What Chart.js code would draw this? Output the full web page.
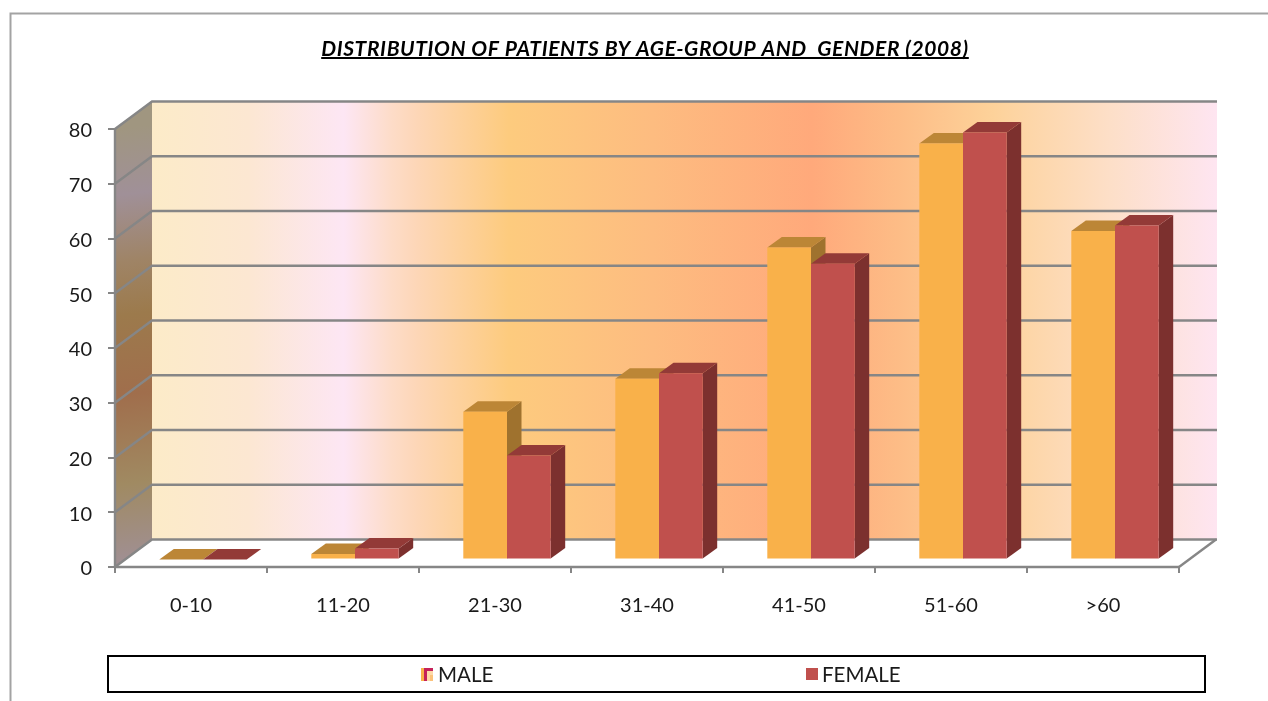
<!DOCTYPE html>
<html>
<head>
<meta charset="utf-8">
<style>html,body{margin:0;padding:0;background:#fff}canvas{display:block}</style>
<script src="https://cdn.jsdelivr.net/npm/chart.js@4"></script>
</head>
<body>
<canvas id="c" width="1268" height="701"></canvas>
<script>
const categories = ['0-10','11-20','21-30','31-40','41-50','51-60','>60'];
const male = [0,1,27,33,57,76,60];
const female = [0,2,19,34,54,78,61];
const seriesNames = ['MALE','FEMALE'];
const titleText = 'DISTRIBUTION OF PATIENTS BY AGE-GROUP AND  GENDER (2008)';
const BODY_FONT = 'Lato';
const TITLE_SPACING = '0.6px';

const WALL = {dx:37, dy:-27.5};
const BAR_SHIFT = {dx:12, dy:-7.5};
const BAR_DEPTH = {dx:14.5, dy:-10.5};
const GRID = '#868686';
const faces = [
  {front:'#F9B14A', top:'#BC8636', side:'#9F722E'},
  {front:'#C0504D', top:'#933A37', side:'#7C302E'}
];

function poly(ctx, pts, fill, stroke, lw){
  ctx.beginPath();
  pts.forEach((p,i)=> i?ctx.lineTo(p[0],p[1]):ctx.moveTo(p[0],p[1]));
  ctx.closePath();
  if(fill){ctx.fillStyle=fill;ctx.fill();}
  if(stroke){ctx.strokeStyle=stroke;ctx.lineWidth=lw||1;ctx.stroke();}
}
function drawDepth(ctx, meta, f){
  const d=BAR_DEPTH;
  meta.data.forEach(bar=>{
    const p=bar.getProps(['x','y','base','width'],true);
    const l=p.x-p.width/2, r=p.x+p.width/2, t=p.y, b=p.base;
    if(b-t>0) poly(ctx,[[r,t],[r+d.dx,t+d.dy],[r+d.dx,b+d.dy],[r,b]],f.side);
    poly(ctx,[[l,t],[l+d.dx,t+d.dy],[r+d.dx,t+d.dy],[r,t]],f.top);
  });
}

const scene = {
  id:'scene',
  afterLayout(chart){
    const tb=chart.titleBlock, ctx=chart.ctx;
    tb.left = 111;
    if(!tb._spaced){
      const draw=tb.draw;
      tb.draw=function(){ctx.save();ctx.letterSpacing=TITLE_SPACING;draw.call(this);ctx.restore();};
      tb._spaced=true;
    }
  },
  beforeDraw(chart){
    const {ctx, chartArea:a, scales:{y}} = chart;
    ctx.save();
    ctx.fillStyle='#fff';ctx.fillRect(0,0,chart.width,chart.height);
    // outer frame
    ctx.strokeStyle='#A3A3A3';ctx.lineWidth=2;
    ctx.beginPath();ctx.moveTo(10.5,chart.height);ctx.lineTo(10.5,13.5);ctx.lineTo(chart.width,13.5);ctx.stroke();
    const L=a.left,B=y.getPixelForValue(0),T=y.getPixelForValue(80),R=a.right;
    const bl=L+WALL.dx, br=R+WALL.dx+1, bt=T+WALL.dy, bb=B+WALL.dy;
    // back wall
    const g=ctx.createLinearGradient(bl,0,br,0);
    [[0,'#FCEBC8'],[0.09,'#FCE7D2'],[0.18,'#FDE6F4'],[0.225,'#FDDCC8'],[0.25,'#FDD6B6'],[0.335,'#FDCB7E'],
     [0.47,'#FDBC80'],[0.62,'#FFA97B'],[0.70,'#FDBC86'],[0.79,'#FDD29A'],[0.90,'#FDDFC8'],[1,'#FEE5F1']]
      .forEach(s=>g.addColorStop(s[0],s[1]));
    ctx.fillStyle=g;ctx.fillRect(bl,bt,br-bl,bb-bt);
    // side wall
    const sg=ctx.createLinearGradient(L,T,bl+20,B);
    [[0,'#A09680'],[0.15,'#A09098'],[0.3,'#9F8466'],[0.42,'#9C7A4C'],[0.6,'#A06E4C'],[0.8,'#A08A62'],[1,'#A0909A']]
      .forEach(s=>sg.addColorStop(s[0],s[1]));
    poly(ctx,[[L,T],[bl,bt],[bl,bb],[L,B]],sg);
    // grid lines on both walls
    ctx.strokeStyle=GRID;ctx.lineWidth=2.4;
    y.ticks.forEach(t=>{
      const py=y.getPixelForValue(t.value);
      ctx.beginPath();ctx.moveTo(L,py);ctx.lineTo(bl,py+WALL.dy);ctx.lineTo(br,py+WALL.dy);ctx.stroke();
    });
    // floor edges and wall corner
    ctx.beginPath();ctx.moveTo(R,B);ctx.lineTo(R+WALL.dx,B+WALL.dy);ctx.stroke();
    ctx.beginPath();ctx.moveTo(L,B);ctx.lineTo(R,B);ctx.stroke();
    ctx.beginPath();ctx.moveTo(L,T);ctx.lineTo(L,B);ctx.stroke();
    ctx.restore();
  },
  beforeDatasetsDraw(chart){
    const ctx=chart.ctx;
    ctx.save();
    ctx.translate(BAR_SHIFT.dx,BAR_SHIFT.dy);
    // the left series' depth faces sit behind every front face of the right series
    drawDepth(ctx,chart.getDatasetMeta(0),faces[0]);
  },
  beforeDatasetDraw(chart,args){
    if(args.index===1) drawDepth(chart.ctx,args.meta,faces[1]);
  },
  afterDatasetsDraw(chart){
    chart.ctx.restore();
  },
  afterDraw(chart){
    const ctx=chart.ctx, tb=chart.titleBlock, tf=tb.options.font;
    ctx.save();
    // title underline
    ctx.font=tf.style+' '+tf.weight+' '+tf.size+'px "'+tf.family+'"';
    ctx.letterSpacing=TITLE_SPACING;
    const w=ctx.measureText(titleText).width, cx=(tb.left+tb.right)/2;
    ctx.letterSpacing='0px';
    ctx.fillStyle='#000';ctx.fillRect(cx-w/2,57,w,2);
    // legend box
    ctx.strokeStyle='#000';ctx.lineWidth=2;ctx.strokeRect(108,656,1097,36);
    // legend keys
    const kx=421, ky=668;
    ctx.fillStyle='#F9B14A';ctx.fillRect(kx,ky,12,13);
    ctx.fillStyle='#C5215A';ctx.fillRect(kx+3,ky,9,3);ctx.fillRect(kx+3,ky,3,13);
    ctx.fillStyle='#FDD9A8';ctx.fillRect(kx+6,ky+3,6,10);
    ctx.fillStyle='#FBC27A';ctx.fillRect(kx+9,ky+7,3,6);
    ctx.fillStyle=faces[1].front;ctx.fillRect(806,668,12,12);
    ctx.fillStyle='#1a1a1a';ctx.font='20.5px "'+BODY_FONT+'"';ctx.textBaseline='middle';ctx.textAlign='left';
    ctx.fillText(seriesNames[0],438,675);
    ctx.fillText(seriesNames[1],822,675);
    ctx.restore();
  }
};

new Chart(document.getElementById('c'),{
  type:'bar',
  data:{labels:categories,datasets:[
    {label:seriesNames[0],data:male,backgroundColor:faces[0].front,clip:false},
    {label:seriesNames[1],data:female,backgroundColor:faces[1].front,clip:false}
  ]},
  plugins:[scene],
  options:{
    responsive:false,animation:false,
    layout:{padding:{left:0,right:89,top:37,bottom:60}},
    datasets:{bar:{categoryPercentage:0.575,barPercentage:1,grouped:true}},
    plugins:{
      legend:{display:false},
      tooltip:{enabled:false},
      title:{display:true,fullSize:false,text:titleText,color:'#000',
        font:{family:'Lato',size:21,style:'italic',weight:'bold',lineHeight:1.2},
        padding:{top:0,bottom:66.8}}
    },
    scales:{
      x:{
        afterFit(s){s.height=74;},
        border:{display:false},
        grid:{display:true,drawOnChartArea:false,drawTicks:true,tickLength:6,color:GRID,lineWidth:2},
        ticks:{color:'#1a1a1a',font:{family:BODY_FONT,size:20},padding:21,maxRotation:0}
      },
      y:{
        min:0,max:80,
        afterFit(s){s.width=115;},
        border:{display:false},
        grid:{display:true,drawOnChartArea:false,drawTicks:true,tickLength:7,color:GRID,lineWidth:2},
        ticks:{stepSize:10,color:'#1a1a1a',font:{family:BODY_FONT,size:20},padding:16,labelOffset:2}
      }
    }
  }
});
</script>
</body>
</html>
